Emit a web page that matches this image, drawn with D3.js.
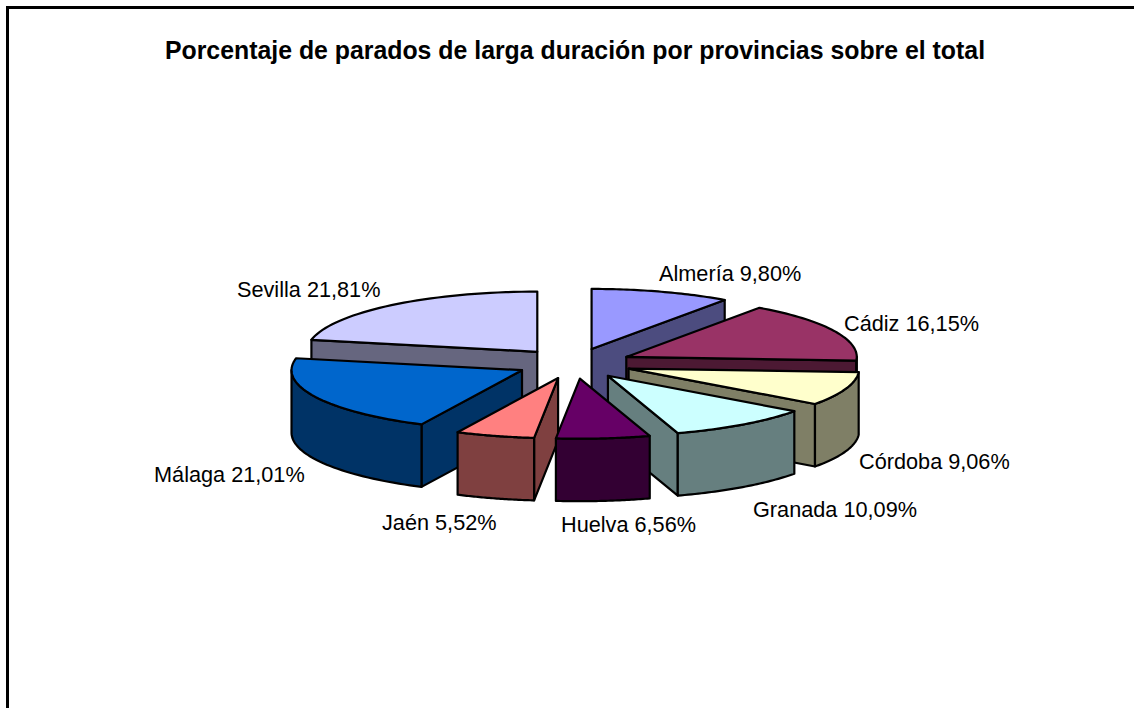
<!DOCTYPE html>
<html><head><meta charset="utf-8">
<script src="https://cdn.jsdelivr.net/npm/d3@7/dist/d3.min.js"></script>
<style>html,body{margin:0;padding:0;background:#fff}svg{display:block}</style>
</head><body><svg id="c" width="1134" height="708"></svg>
<script>
const titleText = "Porcentaje de parados de larga duración por provincias sobre el total";
const provinces = ["Almería","Cádiz","Córdoba","Granada","Huelva","Jaén","Málaga","Sevilla"];
const shares = [9.80,16.15,9.06,10.09,6.56,5.52,21.01,21.81];
const topColors = ["#9999FF","#993366","#FFFFCC","#CCFFFF","#660066","#FF8080","#0066CC","#CCCCFF"];
const sideColors = ["#4C4C7F","#4C1933","#7F7F66","#667F7F","#330033","#7F4040","#003366","#66667F"];
// label baseline-left anchors (layout, not data)
const labelX = [659,844,859,753,561,382,154,237];
const labelY = [281,331,469,517,532,530,482,297];
const paintOrder = [0,7,1,6,2,5,3,4];

const W=1134,H=708, cx=574, cy=363.5, R=230.5, k=0.261, explode=58, depth=62.5;
const svg=d3.select("#c");
svg.append("rect").attr("x",7.5).attr("y",7.5).attr("width",1200).attr("height",760)
  .attr("fill","#fff").attr("stroke","#000").attr("stroke-width",3);
svg.append("text").attr("x",575).attr("y",59).attr("text-anchor","middle")
  .attr("font-family","Liberation Sans").attr("font-weight","bold").attr("font-size",24.85).text(titleText);

const pie=d3.pie().sort(null).value(d=>d)(shares);
const line=d3.line();
const proj=(ox,oy,r,a,z=0)=>[ox+r*Math.sin(a), oy-k*r*Math.cos(a)+z];
const g=svg.append("g").attr("stroke","#000").attr("stroke-width",2.2).attr("stroke-linejoin","round");
paintOrder.forEach(i=>{
  const s=pie[i], mid=(s.startAngle+s.endAngle)/2;
  const ox=cx+explode*Math.sin(mid), oy=cy-k*explode*Math.cos(mid);
  const a0=s.startAngle,a1=s.endAngle;
  const arc=(from,to,z)=>d3.range(0,41).map(t=>proj(ox,oy,R,from+(to-from)*t/40,z));
  const wall=a=>{
    const p=proj(ox,oy,R,a);
    g.append("path").attr("fill",sideColors[i]).attr("d",line([[ox,oy],p,[p[0],p[1]+depth],[ox,oy+depth]])+"Z");
  };
  if(Math.cos(a0-Math.PI/2)<-1e-6) wall(a0);
  if(Math.cos(a1+Math.PI/2)<-1e-6) wall(a1);
  const f0=Math.max(a0,Math.PI/2), f1=Math.min(a1,Math.PI*1.5);
  if(f1>f0){
    g.append("path").attr("fill",sideColors[i]).attr("d",line([...arc(f0,f1,0),...arc(f1,f0,depth)])+"Z");
  }
  g.append("path").attr("fill",topColors[i]).attr("d",line([[ox,oy],...arc(a0,a1,0)])+"Z");
});
const fmt=v=>v.toFixed(2).replace(".",",")+"%";
svg.append("g").selectAll("text").data(provinces).join("text")
  .attr("x",(d,i)=>labelX[i]).attr("y",(d,i)=>labelY[i])
  .attr("font-family","Liberation Sans").attr("font-size",21.7).attr("fill","#000")
  .text((d,i)=>d+" "+fmt(shares[i]));
</script></body></html>
